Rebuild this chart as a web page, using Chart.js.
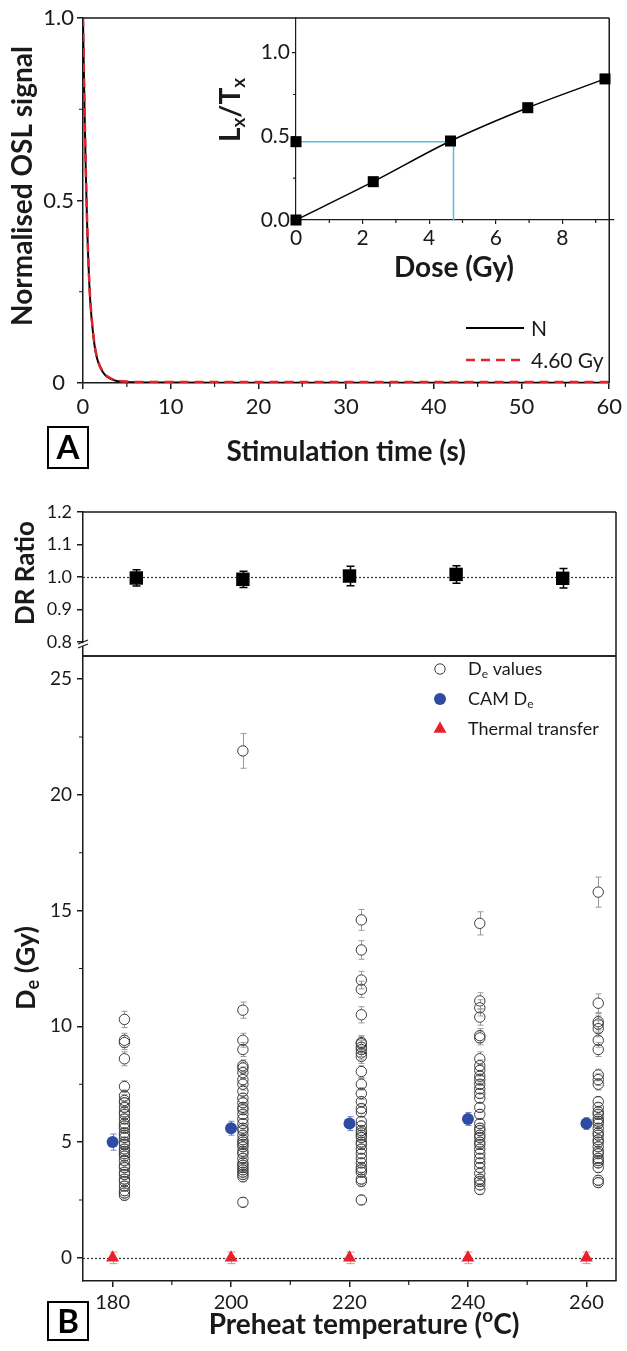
<!DOCTYPE html>
<html><head><meta charset="utf-8">
<script src="https://cdn.jsdelivr.net/npm/chart.js@4.4.1/dist/chart.umd.min.js"></script>
<style>
html,body{margin:0;padding:0;background:#fff;}
#wrap{position:relative;width:627px;height:1351px;background:#fff;}
canvas{position:absolute;left:0;top:0;}
</style></head><body><div id="wrap">
<canvas id="cA" width="627" height="1351"></canvas>
<canvas id="cInset" width="627" height="1351"></canvas>
<canvas id="cDR" width="627" height="1351"></canvas>
<canvas id="cDe" width="627" height="1351"></canvas>
</div>
<script>
// ---------------- DATA ----------------
// Panel A: OSL decay curves
const stimTime   = [0,0.1,0.2,0.3,0.4,0.5,0.6,0.7,0.8,0.9,1.0,1.2,1.4,1.6,1.9,2.2,2.6,3.0,3.5,4.0,5,6,8,10,15,20,25,30,35,40,45,50,55,60];
const oslNatural = [1.0,0.85,0.72,0.6,0.5,0.41,0.34,0.28,0.235,0.2,0.172,0.125,0.09,0.068,0.046,0.032,0.02,0.013,0.008,0.005,0.003,0.002,0.0015,0.0012,0.001,0.001,0.001,0.001,0.001,0.001,0.001,0.001,0.001,0.001];
const oslRegen   = [1.0,0.855,0.725,0.605,0.505,0.415,0.345,0.285,0.24,0.205,0.176,0.128,0.093,0.07,0.048,0.034,0.022,0.015,0.009,0.006,0.004,0.003,0.003,0.003,0.003,0.003,0.003,0.003,0.003,0.003,0.003,0.003,0.003,0.003];
const seriesNames = ['N', '4.60 Gy'];
const stimTicks = [0,10,20,30,40,50,60];
const stimMinor = [5,15,25,35,45,55];
const oslTicks = [0,0.5,1.0];
const oslTickLabels = ['0','0.5','1.0'];
const oslMinor = [0.25,0.75];

// Inset: dose response
const regenDose  = [0, 2.32, 4.64, 6.96, 9.28];
const regenLxTx  = [0.0, 0.229, 0.472, 0.671, 0.843];
const naturalDose = [0];
const naturalLxTx = [0.468];
const equivDose = [4.73];
const doseTicks = [0,2,4,6,8];
const doseMinor = [1,3,5,7,9];
const lxTicks = [0,0.5,1.0];
const lxTickLabels = ['0.0','0.5','1.0'];
const lxMinor = [0.25,0.75];

// Panel B top: dose recovery ratio
const preheatTemps = [180,200,220,240,260];
const drRatio = [0.997,0.993,1.003,1.008,0.996];
const drErr   = [0.025,0.025,0.03,0.027,0.03];
const drTicks = [0.8,0.9,1.0,1.1,1.2];
const drTickLabels = ['0.8','0.9','1.0','1.1','1.2'];
const drUnity = [1.0];

// Panel B bottom: De values
const deValueTemps = [182,202,222,242,262];
const de180 = [10.3,9.4,9.3,8.6,7.4,7.0,6.8,6.7,6.5,6.3,6.2,6.0,5.8,5.7,5.6,5.4,5.3,5.2,5.0,4.9,4.7,4.6,4.5,4.4,4.2,4.0,3.9,3.7,3.6,3.4,3.3,3.1,2.9,2.8,2.7];
const err180 = [0.35,0.3,0.3,0.3,0.25,0.25,0.25,0.2,0.2,0.2,0.2,0.2,0.2,0.2,0.2,0.2,0.2,0.2,0.2,0.2,0.2,0.2,0.2,0.2,0.2,0.2,0.2,0.2,0.2,0.2,0.2,0.2,0.2,0.2,0.2];
const de200 = [21.9,10.7,9.4,9.0,8.3,8.2,8.0,7.7,7.5,7.2,6.9,6.7,6.5,6.4,6.2,6.0,5.8,5.6,5.5,5.3,5.1,5.0,4.9,4.8,4.6,4.5,4.3,4.1,4.0,3.9,3.8,3.7,3.6,3.5,2.4];
const err200 = [0.75,0.35,0.3,0.3,0.25,0.25,0.25,0.25,0.25,0.2,0.2,0.2,0.2,0.2,0.2,0.2,0.2,0.2,0.2,0.2,0.2,0.2,0.2,0.2,0.2,0.2,0.2,0.2,0.2,0.2,0.2,0.2,0.2,0.2,0.2];
const de220 = [14.6,13.3,12.0,11.6,10.5,9.3,9.25,9.1,9.0,8.85,8.7,8.05,7.5,7.1,6.75,6.45,6.3,5.9,5.7,5.5,5.4,5.3,5.2,5.0,4.9,4.7,4.5,4.3,4.1,3.9,3.8,3.7,3.4,3.3,2.5];
const err220 = [0.45,0.4,0.38,0.35,0.35,0.3,0.3,0.3,0.3,0.3,0.3,0.25,0.25,0.25,0.2,0.2,0.2,0.2,0.2,0.2,0.2,0.2,0.2,0.2,0.2,0.2,0.2,0.2,0.2,0.2,0.2,0.2,0.2,0.2,0.2];
const de240 = [14.45,11.1,10.8,10.4,9.6,9.5,8.6,8.3,8.1,7.85,7.7,7.5,7.3,7.1,6.9,6.5,6.2,5.8,5.6,5.5,5.3,5.2,5.0,4.9,4.7,4.5,4.3,4.1,3.9,3.65,3.4,3.3,3.15,2.95];
const err240 = [0.5,0.35,0.35,0.35,0.3,0.3,0.3,0.25,0.25,0.25,0.25,0.2,0.2,0.2,0.2,0.2,0.2,0.2,0.2,0.2,0.2,0.2,0.2,0.2,0.2,0.2,0.2,0.2,0.2,0.2,0.2,0.2,0.2,0.2];
const de260 = [15.8,11.0,10.2,10.1,9.9,9.4,9.0,7.9,7.7,7.5,6.75,6.5,6.3,6.2,6.0,5.9,5.8,5.6,5.4,5.3,5.1,5.0,4.8,4.6,4.5,4.3,4.2,4.1,3.9,3.35,3.25];
const err260 = [0.65,0.4,0.35,0.35,0.35,0.3,0.3,0.25,0.25,0.25,0.2,0.2,0.2,0.2,0.2,0.2,0.2,0.2,0.2,0.2,0.2,0.2,0.2,0.2,0.2,0.2,0.2,0.2,0.2,0.2,0.2];
const camDe  = [5.0,5.6,5.8,6.0,5.8];
const camErr = [0.35,0.3,0.3,0.28,0.25];
const ttDe   = [0,0,0,0,0];
const ttErr  = [0.25,0.25,0.25,0.25,0.25];
const deTicks = [0,5,10,15,20,25];
const deMinor = [2.5,7.5,12.5,17.5,22.5];
const tempTicks = [180,200,220,240,260];
const tempMinor = [190,210,230,250];
const deZero = [0];
const legendNamesB = ['De values','CAM De','Thermal transfer'];

// ---------------- HELPERS ----------------
const FAMILY = 'Lato, "Open Sans", "DejaVu Sans", sans-serif';
const INK = '#1a1a1a';

function richText(ctx, parts, x, y, size, o) {
  o = o || {};
  const w8 = o.bold ? 'bold ' : '';
  const fN = w8 + size + 'px ' + FAMILY;
  const fS = w8 + Math.round(size * 0.68) + 'px ' + FAMILY;
  ctx.save();
  ctx.translate(x, y);
  if (o.rot) ctx.rotate(o.rot);
  let w = 0;
  for (const p of parts) { ctx.font = p[1] ? fS : fN; w += ctx.measureText(p[0]).width; }
  let cx = o.align === 'left' ? 0 : (o.align === 'right' ? -w : -w / 2);
  ctx.textBaseline = 'middle';
  ctx.fillStyle = o.color || INK;
  for (const p of parts) {
    ctx.font = p[1] ? fS : fN;
    const dy = p[1] === 1 ? size * 0.28 : (p[1] === 2 ? -size * 0.32 : 0);
    ctx.fillText(p[0], cx, dy);
    cx += ctx.measureText(p[0]).width;
  }
  ctx.restore();
}

const errorBarPlugin = {
  id: 'errbars',
  beforeDatasetDraw(chart, args) {
    const ds = chart.data.datasets[args.index];
    if (!ds.errors) return;
    const ys = chart.scales.y, ctx = chart.ctx;
    ctx.save();
    ctx.strokeStyle = ds.errColor || INK;
    ctx.lineWidth = ds.errWidth || 1;
    args.meta.data.forEach((pt, i) => {
      const e = ds.errors[i]; if (e == null) return;
      const v = ds.data[i].y;
      const x = Math.round(pt.x) + 0.5, yc = pt.y;
      const yT = ys.getPixelForValue(v + e), yB = ys.getPixelForValue(v - e);
      const gap = ds.errGap || 0, cw = ds.capHalf || 4;
      ctx.beginPath();
      if (yc - gap > yT) { ctx.moveTo(x, yc - gap); ctx.lineTo(x, yT); }
      if (yc + gap < yB) { ctx.moveTo(x, yc + gap); ctx.lineTo(x, yB); }
      ctx.moveTo(x - cw, yT); ctx.lineTo(x + cw, yT);
      ctx.moveTo(x - cw, yB); ctx.lineTo(x + cw, yB);
      ctx.stroke();
    });
    ctx.restore();
  }
};

const framePlugin = {
  id: 'frame',
  afterDraw(chart, args, opts) {
    const sides = opts.sides || [];
    if (!sides.length) return;
    const a = chart.chartArea, ctx = chart.ctx;
    ctx.save(); ctx.strokeStyle = INK; ctx.lineWidth = 1.5;
    ctx.beginPath();
    if (sides.includes('top')) { ctx.moveTo(a.left, a.top); ctx.lineTo(a.right, a.top); }
    if (sides.includes('right')) { ctx.moveTo(a.right, a.top); ctx.lineTo(a.right, a.bottom); }
    if (sides.includes('bottom')) { ctx.moveTo(a.left, a.bottom); ctx.lineTo(a.right, a.bottom); }
    ctx.stroke(); ctx.restore();
  }
};

const minorTickPlugin = {
  id: 'minor',
  afterDraw(chart, args, opts) {
    const ctx = chart.ctx, a = chart.chartArea, L = opts.len || 4;
    ctx.save(); ctx.strokeStyle = INK; ctx.lineWidth = 1.2;
    ctx.beginPath();
    (opts.x || []).forEach(v => { const px = chart.scales.x.getPixelForValue(v); ctx.moveTo(px, a.bottom); ctx.lineTo(px, a.bottom + L); });
    (opts.y || []).forEach(v => { const py = chart.scales.y.getPixelForValue(v); ctx.moveTo(a.left, py); ctx.lineTo(a.left - L, py); });
    ctx.stroke(); ctx.restore();
  }
};

function refLine(chart, value) {
  const ctx = chart.ctx, a = chart.chartArea;
  const py = Math.round(chart.scales.y.getPixelForValue(value)) + 0.5;
  ctx.save(); ctx.strokeStyle = '#333'; ctx.lineWidth = 1.2; ctx.setLineDash([2, 2]);
  ctx.beginPath(); ctx.moveTo(a.left, py); ctx.lineTo(a.right, py); ctx.stroke(); ctx.restore();
}

function letterBox(ctx, ch, x, y, w, h) {
  ctx.save(); ctx.strokeStyle = '#000'; ctx.lineWidth = 2;
  ctx.strokeRect(x, y, w, h);
  ctx.fillStyle = '#000'; ctx.font = 'bold 33px ' + FAMILY;
  ctx.textAlign = 'center'; ctx.textBaseline = 'middle';
  ctx.fillText(ch, x + w / 2, y + h / 2 + 1);
  ctx.restore();
}

function axisCommon(tickLen) {
  return {
    grid: { drawOnChartArea: false, drawTicks: true, tickLength: tickLen, color: INK, lineWidth: 1.5 },
    border: { display: true, color: INK, width: 1.5 }
  };
}
function fixedTicks(vals) { return s => { s.ticks = vals.map(v => ({ value: v })); }; }

Chart.defaults.font.family = FAMILY;
Chart.defaults.color = INK;

const baseOptions = (padding) => ({
  responsive: false, animation: false, events: [],
  layout: { padding },
  plugins: { legend: { display: false }, tooltip: { enabled: false } }
});

// ---------------- PANEL A MAIN ----------------
const optA = baseOptions({ left: 0, top: 18, right: 13, bottom: 0 });
optA.plugins.frame = { sides: ['top', 'right'] };
optA.plugins.minor = { x: stimMinor, y: oslMinor, len: 4 };
optA.scales = {
  x: Object.assign(axisCommon(6), {
    type: 'linear', min: 0, max: 60,
    afterBuildTicks: fixedTicks(stimTicks),
    afterFit: s => { s.height = 968; },
    ticks: { font: { size: 22 }, padding: 5, maxRotation: 0, autoSkip: false }
  }),
  y: Object.assign(axisCommon(6), {
    type: 'linear', min: 0, max: 1,
    afterBuildTicks: fixedTicks(oslTicks),
    afterFit: s => { s.width = 83; },
    ticks: { font: { size: 22 }, padding: 3, crossAlign: 'center', autoSkip: false, callback: (v, i) => oslTickLabels[i] }
  })
};
new Chart(document.getElementById('cA'), {
  type: 'line',
  data: { datasets: [
    { label: seriesNames[0], data: stimTime.map((t, i) => ({ x: t, y: oslNatural[i] })), borderColor: '#000', borderWidth: 2, pointRadius: 0, cubicInterpolationMode: 'monotone', order: 2 },
    { label: seriesNames[1], data: stimTime.map((t, i) => ({ x: t, y: oslRegen[i] })), borderColor: '#e3222b', borderWidth: 2.5, borderDash: [9, 6], pointRadius: 0, cubicInterpolationMode: 'monotone', order: 1 }
  ]},
  options: optA,
  plugins: [framePlugin, minorTickPlugin, {
    id: 'annA',
    afterDraw(chart) {
      const ctx = chart.ctx, a = chart.chartArea;
      richText(ctx, [['Normalised OSL signal', 0]], 23, 186, 28, { bold: true, rot: -Math.PI / 2 });
      richText(ctx, [['Stimulation time (s)', 0]], (a.left + a.right) / 2, 452, 28, { bold: true });
      letterBox(ctx, 'A', 48, 427, 40, 41);
      // legend
      const ds = chart.data.datasets, ys = [328, 360];
      ds.forEach((d, i) => {
        ctx.save(); ctx.strokeStyle = d.borderColor; ctx.lineWidth = d.borderWidth;
        ctx.setLineDash(d.borderDash || []);
        ctx.beginPath(); ctx.moveTo(466, ys[i]); ctx.lineTo(524, ys[i]); ctx.stroke(); ctx.restore();
        richText(ctx, [[d.label, 0]], 531, ys[i] + 1, 21, { align: 'left' });
      });
    }
  }]
});

// ---------------- INSET ----------------
const optI = baseOptions({ left: 0, top: 18, right: 13, bottom: 0 });
optI.plugins.minor = { x: doseMinor, y: lxMinor, len: 3 };
optI.scales = {
  x: Object.assign(axisCommon(4), {
    type: 'linear', min: 0, max: 9.55,
    afterBuildTicks: fixedTicks(doseTicks),
    afterFit: s => { s.height = 1131; },
    ticks: { font: { size: 21 }, padding: 2, maxRotation: 0, autoSkip: false }
  }),
  y: Object.assign(axisCommon(4), {
    type: 'linear', min: 0, max: 1.207,
    afterBuildTicks: fixedTicks(lxTicks),
    afterFit: s => { s.width = 296; },
    ticks: { font: { size: 21 }, padding: 2, autoSkip: false, callback: (v, i) => lxTickLabels[i] }
  })
};
optI.scales.x.grid.lineWidth = 1.2; optI.scales.y.grid.lineWidth = 1.2;
optI.scales.x.border.width = 1.2; optI.scales.y.border.width = 1.2;
new Chart(document.getElementById('cInset'), {
  type: 'scatter',
  data: { datasets: [
    { type: 'line', data: [ { x: naturalDose[0], y: naturalLxTx[0] }, { x: equivDose[0], y: naturalLxTx[0] }, { x: equivDose[0], y: 0 } ],
      borderColor: '#5bbbe0', borderWidth: 1.5, pointRadius: 0, tension: 0, order: 3, clip: false },
    { type: 'line', data: regenDose.map((d, i) => ({ x: d, y: regenLxTx[i] })), borderColor: '#000', borderWidth: 1.5,
      pointRadius: 0, cubicInterpolationMode: 'monotone', order: 2, clip: false },
    { data: regenDose.map((d, i) => ({ x: d, y: regenLxTx[i] })).concat(naturalDose.map((d, i) => ({ x: d, y: naturalLxTx[i] }))),
      pointStyle: 'rect', pointRadius: 7.8, backgroundColor: '#000', borderColor: '#000', borderWidth: 0, order: 1, clip: false }
  ]},
  options: optI,
  plugins: [minorTickPlugin, {
    id: 'annI',
    afterDraw(chart) {
      const ctx = chart.ctx;
      richText(ctx, [['L', 0], ['x', 1], ['/T', 0], ['x', 1]], 231, 110, 28, { bold: true, rot: -Math.PI / 2 });
      richText(ctx, [['Dose (Gy)', 0]], 454, 268, 28, { bold: true });
    }
  }]
});

// ---------------- PANEL B: DR RATIO ----------------
const optD = baseOptions({ left: 0, top: 512, right: 11, bottom: 695 });
optD.plugins.frame = { sides: ['top', 'right', 'bottom'] };
optD.scales = {
  x: { type: 'linear', min: 170, max: 270, display: false },
  y: Object.assign(axisCommon(6), {
    type: 'linear', min: 0.757, max: 1.2,
    afterBuildTicks: fixedTicks(drTicks),
    afterFit: s => { s.width = 83; },
    ticks: { font: { size: 18 }, padding: 5, autoSkip: false, callback: (v, i) => drTickLabels[i] }
  })
};
new Chart(document.getElementById('cDR'), {
  type: 'scatter',
  data: { datasets: [
    { data: preheatTemps.map((t, i) => ({ x: t, y: drRatio[i] })), errors: drErr, errColor: '#000', errWidth: 1.5, capHalf: 4,
      pointStyle: 'rect', pointRadius: 9.5, backgroundColor: '#000', borderColor: '#000', borderWidth: 0, clip: false }
  ]},
  options: optD,
  plugins: [framePlugin, errorBarPlugin, {
    id: 'annD',
    beforeDatasetsDraw(chart) { refLine(chart, drUnity[0]); },
    afterDraw(chart) {
      const ctx = chart.ctx, a = chart.chartArea;
      richText(ctx, [['DR Ratio', 0]], 26, 573, 26, { bold: true, rot: -Math.PI / 2 });
      // axis break mark at bottom tick
      const py = chart.scales.y.getPixelForValue(drTicks[0]);
      ctx.save();
      ctx.fillStyle = '#fff'; ctx.beginPath();
      ctx.moveTo(a.left - 5, py + 3); ctx.lineTo(a.left + 5, py - 1); ctx.lineTo(a.left + 5, py + 2); ctx.lineTo(a.left - 5, py + 6); ctx.fill();
      ctx.strokeStyle = INK; ctx.lineWidth = 1.2; ctx.beginPath();
      ctx.moveTo(a.left - 5, py + 2); ctx.lineTo(a.left + 5, py - 2);
      ctx.moveTo(a.left - 5, py + 6); ctx.lineTo(a.left + 5, py + 2);
      ctx.stroke(); ctx.restore();
    }
  }]
});

// ---------------- PANEL B: De ----------------
const deCols = [de180, de200, de220, de240, de260];
const errCols = [err180, err200, err220, err240, err260];
const dePoints = [], deErrors = [];
deCols.forEach((col, k) => col.forEach((v, j) => { dePoints.push({ x: deValueTemps[k], y: v }); deErrors.push(errCols[k][j]); }));

const optE = baseOptions({ left: 0, top: 656, right: 11, bottom: 0 });
optE.plugins.frame = { sides: ['top', 'right'] };
optE.plugins.minor = { x: tempMinor, y: deMinor, len: 4 };
optE.scales = {
  x: Object.assign(axisCommon(6), {
    type: 'linear', min: 175, max: 265,
    afterBuildTicks: fixedTicks(tempTicks),
    afterFit: s => { s.height = 70; },
    ticks: { font: { size: 20 }, padding: 4, maxRotation: 0, autoSkip: false }
  }),
  y: Object.assign(axisCommon(6), {
    type: 'linear', min: -1, max: 26,
    afterBuildTicks: fixedTicks(deTicks),
    afterFit: s => { s.width = 83; },
    ticks: { font: { size: 19 }, padding: 5, autoSkip: false }
  })
};
new Chart(document.getElementById('cDe'), {
  type: 'scatter',
  data: { datasets: [
    { label: legendNamesB[0], data: dePoints, errors: deErrors, errColor: '#9a9a9a', errWidth: 1, capHalf: 3, errGap: 5.2,
      pointStyle: 'circle', pointRadius: 5.2, backgroundColor: 'rgba(0,0,0,0)', borderColor: '#3c3c3c', borderWidth: 1, order: 3, clip: false },
    { label: legendNamesB[1], data: preheatTemps.map((t, i) => ({ x: t, y: camDe[i] })), errors: camErr, errColor: '#7083c8', errWidth: 1, capHalf: 3,
      pointStyle: 'circle', pointRadius: 6, backgroundColor: '#2f4ca5', borderColor: '#2f4ca5', borderWidth: 0, order: 2, clip: false },
    { label: legendNamesB[2], data: preheatTemps.map((t, i) => ({ x: t, y: ttDe[i] })), errors: ttErr, errColor: '#f08a8a', errWidth: 1, capHalf: 0,
      pointStyle: 'triangle', pointRadius: 7.5, backgroundColor: '#e8202a', borderColor: '#e8202a', borderWidth: 0, order: 1, clip: false }
  ]},
  options: optE,
  plugins: [framePlugin, minorTickPlugin, errorBarPlugin, {
    id: 'annE',
    beforeDatasetsDraw(chart) { refLine(chart, deZero[0]); },
    afterDraw(chart) {
      const ctx = chart.ctx;
      richText(ctx, [['D', 0], ['e', 1], [' (Gy)', 0]], 26, 968, 27, { bold: true, rot: -Math.PI / 2 });
      richText(ctx, [['Preheat temperature (', 0], ['o', 2], ['C)', 0]], 364, 1325, 28, { bold: true });
      letterBox(ctx, 'B', 48, 1302, 40, 38);
      // legend
      const ds = chart.data.datasets, ys = [669, 699, 729], mx = 440, tx = 468;
      const legParts = [ [['D', 0], ['e', 1], [' values', 0]], [['CAM D', 0], ['e', 1]], [['Thermal transfer', 0]] ];
      ds.forEach((d, i) => {
        ctx.save();
        ctx.fillStyle = d.backgroundColor; ctx.strokeStyle = d.borderColor; ctx.lineWidth = d.borderWidth;
        Chart.helpers.drawPoint(ctx, { pointStyle: d.pointStyle, radius: d.pointRadius, borderWidth: d.borderWidth, rotation: 0 }, mx, ys[i]);
        ctx.restore();
        richText(ctx, legParts[i], tx, ys[i], 18, { align: 'left' });
      });
    }
  }]
});
</script>
</body></html>
